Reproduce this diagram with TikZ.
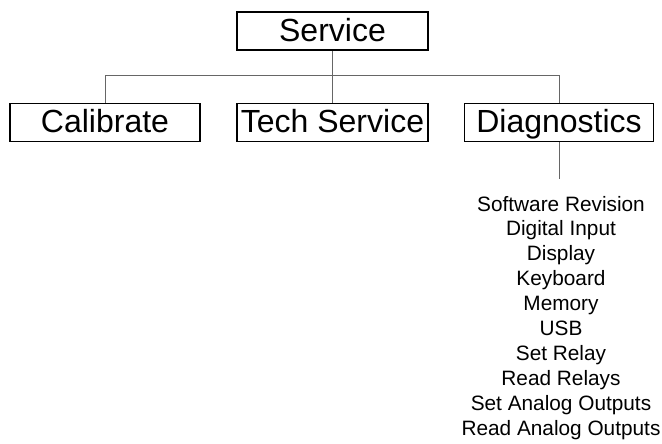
\documentclass[tikz,border=0pt]{standalone}
\usepackage{fontspec}
\setmainfont{Liberation Sans}
\begin{document}
\begin{tikzpicture}[x=1pt,y=-1pt,
  boxnode/.style={draw=black, line width=1.7pt, rectangle, inner sep=0pt,
    minimum height=38pt, text height=23pt, text depth=3pt,
    font=\fontsize{32}{36}\selectfont},
  conn/.style={draw=black!60, line width=1pt},
  itemnode/.style={anchor=base, inner sep=0pt, font=\fontsize{20.8}{24}\selectfont}]
\useasboundingbox (0,0) rectangle (662,444);
\node[boxnode, minimum width=191pt] (service) at (332.5,31.2) {Service};
\node[boxnode, minimum width=190pt] (calib) at (105,122.6) {Calibrate};
\node[boxnode, minimum width=191pt] (tech) at (332.5,122.6) {Tech Service};
\node[boxnode, minimum width=189pt] (diag) at (559,122.6) {Diagnostics};
\coordinate (bus) at (332.5,75.5);
\coordinate (diagend) at (559,179);
\draw[conn] (service.south) -- (bus);
\draw[conn] (calib.north) |- (bus) -| (diag.north);
\draw[conn] (bus) -- (tech.north);
\draw[conn] (diag.south) -- (diagend);
\foreach \t [count=\i from 0] in {Software Revision, Digital Input, Display, Keyboard, Memory, USB, Set Relay, Read Relays, Set Analog Outputs, Read Analog Outputs}
  \node[itemnode] (item\i) at (561,211+24.9*\i) {\t};
\end{tikzpicture}
\end{document}
